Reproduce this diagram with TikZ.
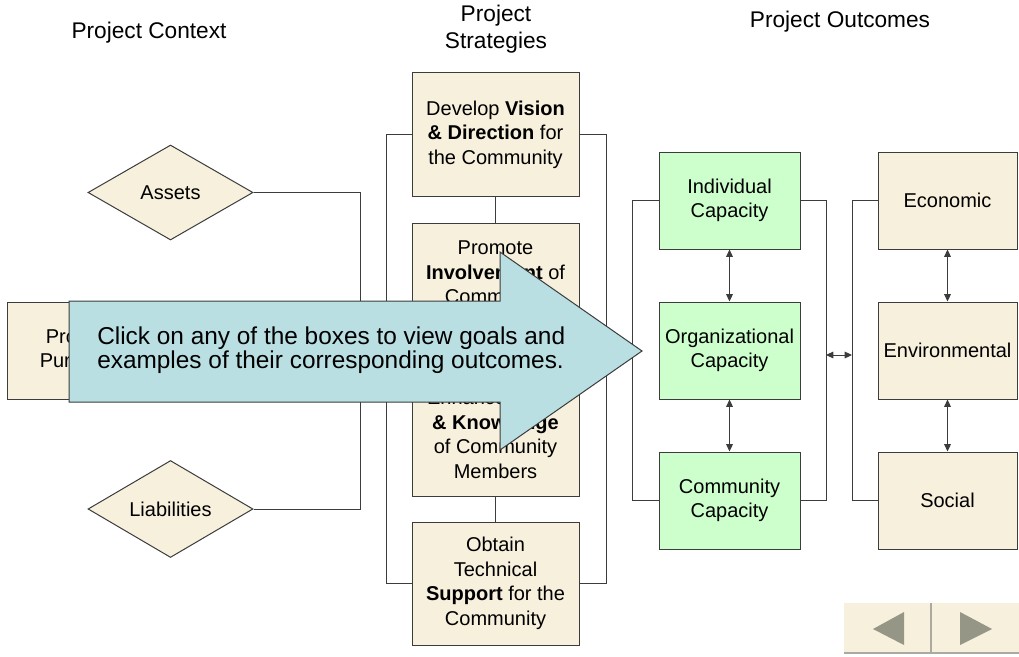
\documentclass[tikz,border=0pt]{standalone}
\usepackage{fontspec}
\setmainfont{Liberation Sans}
\usetikzlibrary{shapes.geometric,arrows.meta}
\definecolor{beige}{RGB}{247,240,221}
\definecolor{mint}{RGB}{204,255,204}
\definecolor{callout}{RGB}{185,223,227}
\definecolor{edge}{RGB}{60,60,60}
\definecolor{navtri}{RGB}{150,150,135}
\definecolor{navline}{RGB}{170,170,160}
\begin{document}
\begin{tikzpicture}[x=0.75pt,y=-0.75pt,
  box/.style={draw=edge,line width=0.75pt,fill=beige,inner sep=0pt,align=center,font=\fontsize{15}{18.4}\selectfont},
  stratbox/.style={box,minimum width=125.25pt,minimum height=92.25pt},
  capbox/.style={box,fill=mint,minimum width=105.75pt,minimum height=72.75pt},
  outbox/.style={box,minimum width=104.25pt,minimum height=72.75pt},
  ctxdiamond/.style={box,diamond,minimum width=123.75pt,minimum height=71.25pt},
  link/.style={draw=edge,line width=0.75pt},
  twoway/.style={link,{Triangle[length=5.5pt,width=5pt]}-{Triangle[length=5.5pt,width=5pt]}},
  header/.style={align=center,font=\fontsize{17}{20.5}\selectfont,inner sep=0pt}
]
\fill[white] (0,0) rectangle (1019,656);
\useasboundingbox (0,0) rectangle (1019,656);

% headers
\node[header] (hctx) at (149,33) {Project Context};
\node[header] (hstr) at (496,29) {Project\\Strategies};
\node[header] (hout) at (840,22) {Project Outcomes};

% context
\node[ctxdiamond] (assets) at (170.5,192.5) {Assets};
\node[ctxdiamond] (liab) at (170.5,509) {Liabilities};
\node[box,minimum width=105pt,minimum height=72.75pt] (purpose) at (77,350.5) {Project\\Purpose};

% strategies
\node[stratbox] (s1) at (495.5,134.5) {Develop \textbf{Vision}\\\textbf{\& Direction} for\\the Community};
\node[stratbox] (s2) at (495.5,284.5) {Promote\\\textbf{Involvement} of\\Community\\Members};
\node[stratbox] (s3) at (495.5,434.5) {Enhance \textbf{Skills}\\\textbf{\& Knowledge}\\of Community\\Members};
\node[stratbox] (s4) at (495.5,583.5) {Obtain\\Technical\\\textbf{Support} for the\\Community};

% capacities
\node[capbox] (g1) at (729.5,200.5) {Individual\\Capacity};
\node[capbox] (g2) at (729.5,350.5) {Organizational\\Capacity};
\node[capbox] (g3) at (729.5,500.5) {Community\\Capacity};

% outcomes
\node[outbox] (o1) at (947.5,200.5) {Economic};
\node[outbox] (o2) at (947.5,350.5) {Environmental};
\node[outbox] (o3) at (947.5,500.5) {Social};

% bus coordinates
\coordinate (ctxbus) at (360,350.5);
\coordinate (sbusL) at (386,350.5);
\coordinate (sbusR) at (606,350.5);
\coordinate (gbusL) at (632,350.5);
\coordinate (gbusR) at (826,355);
\coordinate (obusL) at (852,355);

% connectors
\draw[link] (assets.east) -| (ctxbus);
\draw[link] (liab.east) -| (ctxbus);
\draw[link] (purpose.east) -- (sbusL);
\draw[link] (s1.west) -| (sbusL);
\draw[link] (s4.west) -| (sbusL);
\draw[link] (s1.east) -| (sbusR);
\draw[link] (s4.east) -| (sbusR);
\draw[link] (s1.south) -- (s2.north);
\draw[link] (s2.south) -- (s3.north);
\draw[link] (s3.south) -- (s4.north);
\draw[link] (sbusR) -- (gbusL);
\draw[link] (g1.west) -| (gbusL);
\draw[link] (g3.west) -| (gbusL);
\draw[link] (g1.east) -| (gbusR);
\draw[link] (g3.east) -| (gbusR);
\draw[link] (o1.west) -| (obusL);
\draw[link] (o3.west) -| (obusL);
\draw[twoway] (gbusR) -- (obusL);
\draw[twoway] (g1.south) -- (g2.north);
\draw[twoway] (g2.south) -- (g3.north);
\draw[twoway] (o1.south) -- (o2.north);
\draw[twoway] (o2.south) -- (o3.north);

% callout arrow
\draw[draw=edge,line width=0.75pt,fill=callout] (69,301) -- (500,301) -- (500,252) -- (642,351) -- (500,450) -- (500,402) -- (69,402) -- cycle;
\node[anchor=west,align=left,font=\fontsize{18.3}{15.75}\selectfont,inner sep=0pt] (note) at (97,350) {Click on any of the boxes to view goals and\\examples of their corresponding outcomes.};

% navigation buttons
\fill[beige] (844,603) rectangle (1019,653);
\draw[navline,line width=1.5pt] (844,652.5) -- (1019,652.5);
\draw[navline,line width=1.5pt] (931,603) -- (931,653);
\fill[navtri] (873,629) -- (904,612) -- (904,645) -- cycle;
\fill[navtri] (992,629) -- (960,612) -- (960,645) -- cycle;
\end{tikzpicture}
\end{document}
